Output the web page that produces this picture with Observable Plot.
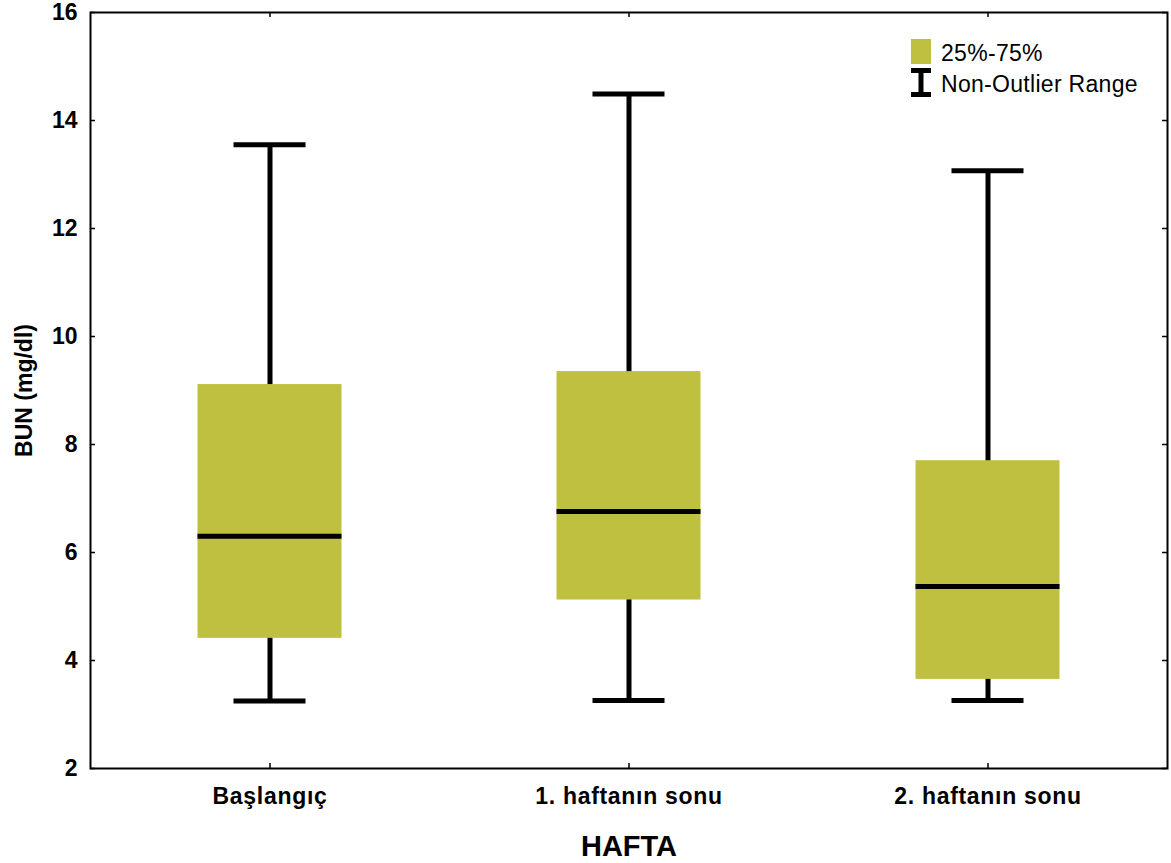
<!DOCTYPE html>
<html>
<head>
<meta charset="utf-8">
<script src="https://cdn.jsdelivr.net/npm/d3@7"></script>
<script src="https://cdn.jsdelivr.net/npm/@observablehq/plot@0.6"></script>
<style>
  html, body { margin: 0; padding: 0; background: #fff; }
  #wrap { position: relative; width: 1171px; height: 863px; }
  #wrap svg { font-family: "Liberation Sans", Arial, sans-serif; }
  g[aria-label="y-axis tick label"] { font-size: 23px; font-weight: bold; letter-spacing: 0px; }
  g[aria-label="x-axis tick label"] { font-size: 23px; font-weight: bold; letter-spacing: 0.7px; }
  g[aria-label="y title"] { font-size: 23px; font-weight: bold; letter-spacing: 0.5px; }
  g[aria-label="x title"] { font-size: 29px; font-weight: bold; letter-spacing: 0.4px; }
  #legend { position: absolute; left: 0; top: 0; pointer-events: none; }
  #legend text { font-family: "Liberation Sans", Arial, sans-serif; font-size: 23px; letter-spacing: 0.3px; fill: #000; }
</style>
</head>
<body>
<div id="wrap"></div>
<script>
const categories = ["Başlangıç", "1. haftanın sonu", "2. haftanın sonu"];
const whiskerLow = [3.25, 3.26, 3.26];
const q1 = [4.41, 5.12, 3.65];
const median = [6.30, 6.76, 5.37];
const q3 = [9.11, 9.35, 7.70];
const whiskerHigh = [13.55, 14.49, 13.07];
const yTicks = [2, 4, 6, 8, 10, 12, 14, 16];
const yLabel = "BUN (mg/dl)";
const xLabel = "HAFTA";
const legendItems = ["25%-75%", "Non-Outlier Range"];
const boxColor = "#c0c040";

const data = categories.map((c, i) => ({
  cat: c, lo: whiskerLow[i], q1: q1[i], med: median[i], q3: q3[i], hi: whiskerHigh[i]
}));

const W = 1171, H = 863;
const mL = 90, mR = 4, mT = 12, mB = 95;
const fw = W - mL - mR, fh = H - mT - mB;

const chart = Plot.plot({
  width: W, height: H,
  marginLeft: mL, marginRight: mR, marginTop: mT, marginBottom: mB,
  style: { fontFamily: "Liberation Sans, Arial, sans-serif", background: "#fff", color: "#000", overflow: "visible" },
  x: { type: "band", domain: categories, padding: 0, axis: null },
  y: { domain: [2, 16], axis: null },
  marks: [
    Plot.ruleX(data, { x: "cat", y1: "lo", y2: "hi", stroke: "#000", strokeWidth: 5 }),
    Plot.barY(data, { x: "cat", y1: "q1", y2: "q3", fill: boxColor, insetLeft: 107.5, insetRight: 107.5 }),
    Plot.tickY(data, { x: "cat", y: "med", stroke: "#000", strokeWidth: 5, insetLeft: 107.5, insetRight: 107.5 }),
    Plot.tickY(data, { x: "cat", y: "lo", stroke: "#000", strokeWidth: 5, insetLeft: 143.5, insetRight: 143.5 }),
    Plot.tickY(data, { x: "cat", y: "hi", stroke: "#000", strokeWidth: 5, insetLeft: 143.5, insetRight: 143.5 }),
    // inward ticks
    Plot.tickY(yTicks, { y: d => d, stroke: "#000", strokeWidth: 1.5, insetRight: fw - 5 }),
    Plot.tickY(yTicks, { y: d => d, stroke: "#000", strokeWidth: 1.5, insetLeft: fw - 5 }),
    Plot.tickX(categories, { x: d => d, stroke: "#000", strokeWidth: 1.5, insetTop: fh - 5 }),
    Plot.tickX(categories, { x: d => d, stroke: "#000", strokeWidth: 1.5, insetBottom: fh - 5 }),
    Plot.frame({ stroke: "#000", strokeWidth: 2 }),
    Plot.axisY({ ticks: yTicks, tickSize: 0, tickPadding: 13, fontSize: 23, fontWeight: "bold", label: null }),
    Plot.axisX({ tickSize: 0, tickPadding: 18.7, fontSize: 23, fontWeight: "bold", label: null }),
    Plot.text([yLabel], { text: d => d, frameAnchor: "left", dx: -66, rotate: -90, textAnchor: "middle", lineAnchor: "middle", fontSize: 23, fontWeight: "bold", ariaLabel: "y title" }),
    Plot.text([xLabel], { text: d => d, frameAnchor: "bottom", dy: 67, textAnchor: "middle", lineAnchor: "top", fontSize: 29, fontWeight: "bold", ariaLabel: "x title" })
  ]
});

const wrap = document.getElementById("wrap");
wrap.appendChild(chart);

// legend overlay
const ns = "http://www.w3.org/2000/svg";
const lg = document.createElementNS(ns, "svg");
lg.setAttribute("id", "legend");
lg.setAttribute("width", W);
lg.setAttribute("height", H);
const sq = document.createElementNS(ns, "rect");
sq.setAttribute("x", 911); sq.setAttribute("y", 39);
sq.setAttribute("width", 20); sq.setAttribute("height", 25);
sq.setAttribute("fill", boxColor);
lg.appendChild(sq);
const ib = document.createElementNS(ns, "path");
ib.setAttribute("d", "M911,70.5H931M921,70.5V94.5M911,94.5H931");
ib.setAttribute("stroke", "#000"); ib.setAttribute("stroke-width", 5); ib.setAttribute("fill", "none");
lg.appendChild(ib);
[[legendItems[0], 60.5], [legendItems[1], 92]].forEach(([t, y]) => {
  const tx = document.createElementNS(ns, "text");
  tx.setAttribute("x", 941); tx.setAttribute("y", y);
  tx.textContent = t;
  lg.appendChild(tx);
});
wrap.appendChild(lg);
</script>
</body>
</html>
